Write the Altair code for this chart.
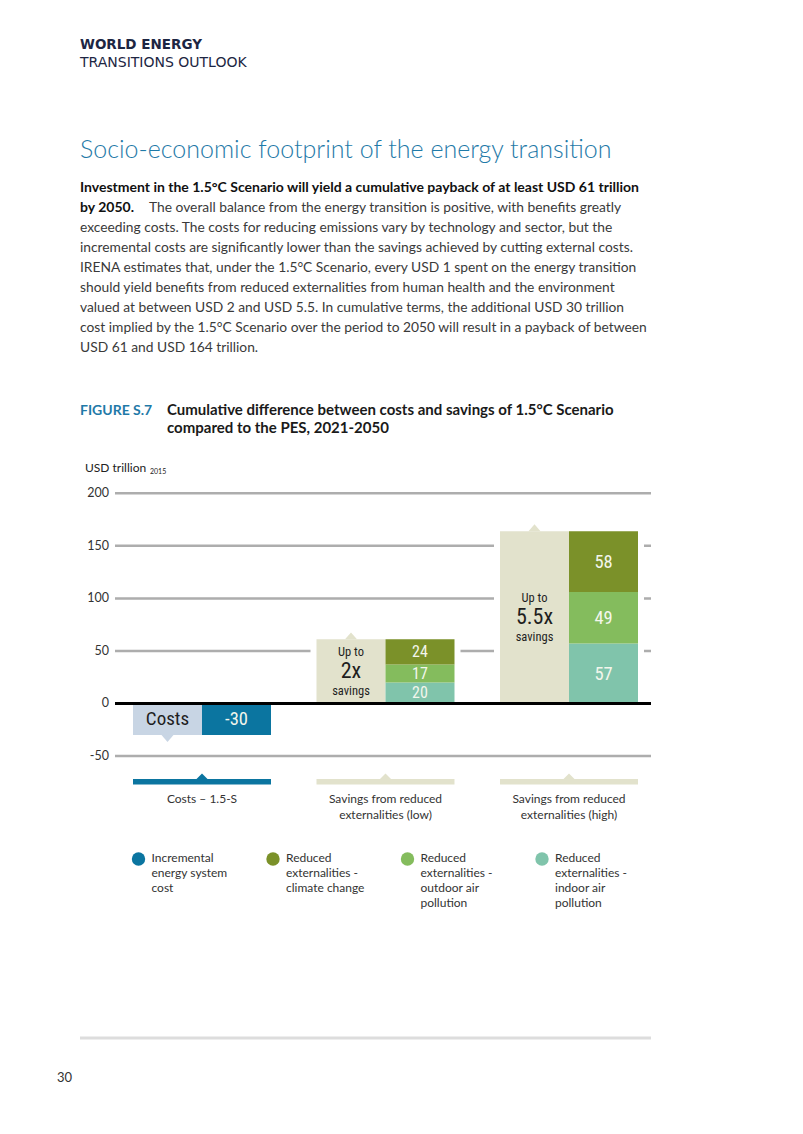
import altair as alt
import pandas as pd

# ---------------- data ----------------
group_ids = ["cost", "low", "high"]
group_labels = ["Costs – 1.5-S",
                "Savings from reduced\nexternalities (low)",
                "Savings from reduced\nexternalities (high)"]
group_kind = ["Costs", "Savings", "Savings"]
box_head = ["", "Up to", "Up to"]
box_main = ["Costs", "2x", "5.5x"]
box_tail = ["", "savings", "savings"]

series = ["Incremental energy system cost",
          "Reduced externalities - climate change",
          "Reduced externalities - outdoor air pollution",
          "Reduced externalities - indoor air pollution"]
series_legend = ["Incremental\nenergy system\ncost",
                 "Reduced\nexternalities -\nclimate change",
                 "Reduced\nexternalities -\noutdoor air\npollution",
                 "Reduced\nexternalities -\nindoor air\npollution"]
series_colors = ["#0b75a0", "#7b9129", "#84bc5d", "#80c4ab"]

# stacked bottom -> top within each group
seg_group = ["cost", "low", "low", "low", "high", "high", "high"]
seg_series = [series[0], series[3], series[2], series[1], series[3], series[2], series[1]]
seg_value = [-30, 20, 17, 24, 57, 49, 58]

y_ticks = [-50, 0, 50, 100, 150, 200]

header_bold = "WORLD ENERGY"
header_regular = "TRANSITIONS OUTLOOK"
page_title = "Socio-economic footprint of the energy transition"
para_bold = ["Investment in the 1.5°C Scenario will yield a cumulative payback of at least USD 61 trillion",
             "by 2050."]
para_line2 = "The overall balance from the energy transition is positive, with benefits greatly"
para_rest = ["exceeding costs. The costs for reducing emissions vary by technology and sector, but the",
             "incremental costs are significantly lower than the savings achieved by cutting external costs.",
             "IRENA estimates that, under the 1.5°C Scenario, every USD 1 spent on the energy transition",
             "should yield benefits from reduced externalities from human health and the environment",
             "valued at between USD 2 and USD 5.5. In cumulative terms, the additional USD 30 trillion",
             "cost implied by the 1.5°C Scenario over the period to 2050 will result in a payback of between",
             "USD 61 and USD 164 trillion."]
fig_tag = "FIGURE S.7"
fig_title = ["Cumulative difference between costs and savings of 1.5°C Scenario",
             "compared to the PES, 2021-2050"]
unit_label = "USD trillion"
unit_sub = "2015"
page_number = "30"

# ---------------- tables ----------------
seg = pd.DataFrame({"group": seg_group, "series": seg_series, "value": seg_value})
seg["v1"] = seg.groupby("group")["value"].cumsum()
seg["v0"] = seg["v1"] - seg["value"]
seg["mid"] = (seg["v0"] + seg["v1"]) / 2
seg["ck"] = seg["series"]
seg["txt"] = seg["value"].astype(str)

box = pd.DataFrame({"group": group_ids, "kind": group_kind, "head": box_head,
                    "main": box_main, "tail": box_tail, "label": group_labels})
box["total"] = box["group"].map(seg.groupby("group")["value"].sum())
box["base"] = 0
box["mid"] = box["total"] / 2
box["ck"] = box["kind"] + " box"
box["bk"] = box["kind"] + " band"

ticks = pd.DataFrame({"tick": y_ticks})
ticks["txt"] = ticks["tick"].astype(str)
legend_df = pd.DataFrame({"series": series, "text": series_legend})
one = pd.DataFrame({"k": [0]})

# ---------------- scales / styles ----------------
XG = alt.Scale(domain=group_ids, range=[125, 630], paddingInner=0.248, paddingOuter=0)
YS = alt.Scale(domain=[-50, 200], range=[748, 485.3], nice=False, zero=False)
CK = alt.Scale(domain=series + ["Costs box", "Savings box", "Costs band", "Savings band"],
               range=series_colors + ["#c8d5e4", "#e2e2cc", "#0b75a0", "#e2e2cc"])
HALF = 69          # width of each half of a group (px)
SHIFT = 34.5       # offset of the half-centres from the group centre (px)
UP = "M-1,0L0,-1.15L1,0Z"
DOWN = "M-1,0L0,1.15L1,0Z"
COND = "Roboto Condensed, Liberation Sans Narrow, DejaVu Sans Condensed, sans-serif"
BODY = "Lato, Open Sans, sans-serif"


def X():
    return alt.X("group:N", scale=XG, axis=None)


def Y(field):
    return alt.Y(field, scale=YS, axis=None)


def C(field="ck"):
    return alt.Color(field + ":N", scale=CK, legend=None)


def page_text(txt, x, y, size, color, weight="normal", font=BODY, lh=None, align="left"):
    kw = dict(align=align, baseline="alphabetic", fontSize=size, color=color,
              fontWeight=weight, font=font, lineBreak="\n")
    if lh:
        kw["lineHeight"] = lh
    return alt.Chart(one).mark_text(**kw).encode(
        x=alt.value(x), y=alt.value(y), text=alt.value(txt))


top = []
# gridlines
top.append(alt.Chart(ticks).mark_rule(color="#adadad", strokeWidth=2.5).encode(
    y=Y("tick:Q"), x=alt.value(107), x2=alt.value(643)))
# tick labels
top.append(alt.Chart(ticks).mark_text(align="right", baseline="middle", fontSize=12.5,
                                       font=BODY, color="#333333").encode(
    y=Y("tick:Q"), x=alt.value(101), text="txt:N"))
# white halo around each group
top.append(alt.Chart(box).mark_bar(color="white", stroke="white", strokeWidth=12).encode(
    x=X(), y=Y("base:Q"), y2="total:Q"))
# label boxes
top.append(alt.Chart(box).mark_bar(width=HALF, xOffset=-SHIFT).encode(
    x=X(), y=Y("base:Q"), y2="total:Q", color=C()))
# stacked values
top.append(alt.Chart(seg).mark_bar(width=HALF, xOffset=SHIFT).encode(
    x=X(), y=Y("v0:Q"), y2="v1:Q", color=C()))
# zero line
top.append(alt.Chart(ticks).transform_filter("datum.tick == 0").mark_rule(
    color="#000000", strokeWidth=3).encode(
    y=Y("tick:Q"), x=alt.value(107), x2=alt.value(643)))
# pointers on boxes
top.append(alt.Chart(box).transform_filter("datum.total >= 0").mark_point(
    filled=True, opacity=1, size=144, strokeWidth=0, shape=UP, xOffset=-SHIFT).encode(
    x=X(), y=Y("total:Q"), color=C()))
top.append(alt.Chart(box).transform_filter("datum.total < 0").mark_point(
    filled=True, opacity=1, size=144, strokeWidth=0, shape=DOWN, xOffset=-SHIFT).encode(
    x=X(), y=Y("total:Q"), color=C()))
# segment value labels
top.append(alt.Chart(seg).transform_filter("datum.group != 'low'").mark_text(
    baseline="middle", font=COND, color="#f3f6ec", fontSize=18.5, xOffset=SHIFT).encode(
    x=X(), y=Y("mid:Q"), text="txt:N"))
top.append(alt.Chart(seg).transform_filter("datum.group == 'low'").mark_text(
    baseline="middle", font=COND, color="#f3f6ec", fontSize=16, xOffset=SHIFT).encode(
    x=X(), y=Y("mid:Q"), text="txt:N"))
# box labels
top.append(alt.Chart(box).transform_filter("datum.total < 0").mark_text(
    baseline="middle", font=COND, color="#1e1e1e", fontSize=19, xOffset=-SHIFT).encode(
    x=X(), y=Y("mid:Q"), text="main:N"))
top.append(alt.Chart(box).transform_filter("datum.total >= 0").mark_text(
    baseline="middle", font=COND, color="#1e1e1e", fontSize=22, xOffset=-SHIFT).encode(
    x=X(), y=Y("mid:Q"), text="main:N"))
top.append(alt.Chart(box).mark_text(baseline="middle", font=COND, color="#1e1e1e",
                                     fontSize=12.5, dy=-19, xOffset=-SHIFT).encode(
    x=X(), y=Y("mid:Q"), text="head:N"))
top.append(alt.Chart(box).mark_text(baseline="middle", font=COND, color="#1e1e1e",
                                     fontSize=12.5, dy=20, xOffset=-SHIFT).encode(
    x=X(), y=Y("mid:Q"), text="tail:N"))
# category bands below the chart
top.append(alt.Chart(box).mark_bar().encode(
    x=X(), y=alt.value(771), y2=alt.value(776.5), color=C("bk")))
top.append(alt.Chart(box).mark_point(filled=True, opacity=1, size=144, strokeWidth=0,
                                      shape="M-1,0L0,-1L1,0Z").encode(
    x=X(), y=alt.value(771.5), color=C("bk")))
top.append(alt.Chart(box).mark_text(align="center", baseline="alphabetic", fontSize=12,
                                     font=BODY, color="#333333", lineBreak="\n",
                                     lineHeight=16).encode(
    x=X(), y=alt.value(795), text="label:N"))
# page texts
top.append(page_text(header_bold, 72, 41, 13.5, "#1d2643", weight="bold", font="DejaVu Sans"))
top.append(page_text(header_regular, 72, 59, 14, "#1d2643", font="DejaVu Sans"))
top.append(page_text(page_title, 72, 150, 25, "#1f7aa8", weight=300))
top.append(page_text("\n".join(para_bold), 72, 184, 14, "#111111", weight="bold", lh=20))
top.append(page_text(para_line2, 141, 204, 13.8, "#3a3a3a"))
top.append(page_text("\n".join(para_rest), 72, 224, 13.8, "#3a3a3a", lh=20))
top.append(page_text(fig_tag, 72, 407, 14, "#1f7aa8", weight="bold"))
top.append(page_text("\n".join(fig_title), 159, 407, 15, "#1a1a1a", weight="bold", lh=18))
top.append(page_text(unit_label, 77, 464, 12, "#222222"))
top.append(page_text(unit_sub, 142, 466, 7, "#222222"))

TOP_H = 830
upper = alt.layer(*top).properties(width=787, height=TOP_H)

# ---------------- legend + footer ----------------
LX = alt.Scale(domain=series, range=[130.5, 534], padding=0)
SER = alt.Scale(domain=series, range=series_colors)
bottom = []
bottom.append(alt.Chart(legend_df).mark_point(filled=True, opacity=1, size=180, strokeWidth=0,
                                               shape="circle").encode(
    x=alt.X("series:N", scale=LX, axis=None), y=alt.value(851 - TOP_H),
    color=alt.Color("series:N", scale=SER, legend=None)))
bottom.append(alt.Chart(legend_df).mark_text(align="left", baseline="alphabetic", fontSize=12,
                                              font=BODY, color="#333333", lineBreak="\n",
                                              lineHeight=15, dx=13).encode(
    x=alt.X("series:N", scale=LX, axis=None), y=alt.value(854 - TOP_H), text="text:N"))
bottom.append(alt.Chart(one).mark_rule(color="#dddddd", strokeWidth=3).encode(
    x=alt.value(72), x2=alt.value(643), y=alt.value(1030 - TOP_H)))
bottom.append(page_text(page_number, 49, 1074 - TOP_H, 13, "#333333"))
lower = alt.layer(*bottom).properties(width=787, height=1118 - TOP_H)

chart = alt.vconcat(upper, lower, spacing=0, bounds="flush").properties(
    padding=0, background="white"
).configure_view(stroke=None)

chart.save("out.html", embed_options={"renderer": "svg", "actions": False})
